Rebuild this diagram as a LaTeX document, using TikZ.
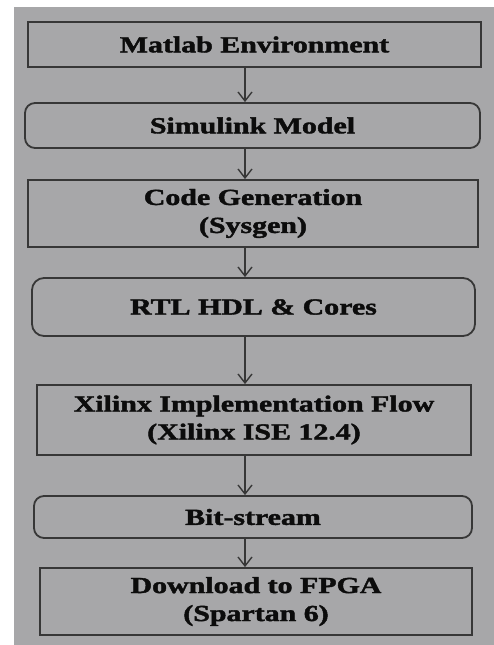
\documentclass[tikz,border=0pt]{standalone}
\usepackage{fontspec}
\setmainfont[BoldFeatures={FakeBold=1.6}]{Liberation Serif}
\usetikzlibrary{arrows.meta}
\definecolor{bgray}{RGB}{167,167,169}
\definecolor{lgray}{RGB}{55,55,55}
\definecolor{tblack}{RGB}{12,12,12}
\newcommand\sx[1]{\scalebox{1.3}[1]{#1}}
\tikzset{
  stepbox/.style={draw=lgray, line width=1.8pt, fill=bgray, rectangle, inner sep=0pt,
     text=tblack, align=center, font=\fontsize{23}{28}\selectfont\bfseries},
  roundbox/.style={stepbox, rounded corners=10pt},
  flow/.style={draw=lgray, line width=1.6pt, -{Straight Barb[length=9pt,width=14pt,line width=1.4pt]}}
}
\begin{document}
\begin{tikzpicture}[x=1pt,y=-1pt]
\useasboundingbox (0,0) rectangle (494,645);
\fill[white] (0,0) rectangle (494,645);
\fill[bgray] (14,7) rectangle (494,645);
\node[stepbox, minimum width=453pt, minimum height=45pt] (b1) at (254.5,44.5) {\sx{Matlab Environment}};
\node[roundbox, minimum width=455pt, minimum height=45pt] (b2) at (252.5,125.5) {\sx{Simulink Model}};
\node[stepbox, minimum width=450pt, minimum height=67pt] (b3) at (253,213.5) {\sx{Code Generation}\\\sx{(Sysgen)}};
\node[roundbox, rounded corners=12pt, minimum width=443pt, minimum height=58pt] (b4) at (253.5,307) {\sx{RTL HDL \& Cores}};
\node[stepbox, minimum width=434pt, minimum height=70pt] (b5) at (254,420) {\sx{Xilinx Implementation Flow}\\\sx{(Xilinx ISE 12.4)}};
\node[roundbox, minimum width=438pt, minimum height=42pt] (b6) at (253,517) {\sx{Bit-stream}};
\node[stepbox, minimum width=432pt, minimum height=67pt] (b7) at (256,601.5) {\sx{Download to FPGA}\\\sx{(Spartan 6)}};
\coordinate (ax) at (245,0);
\draw[flow] (b1.south -| ax) -- (b2.north -| ax);
\draw[flow] (b2.south -| ax) -- (b3.north -| ax);
\draw[flow] (b3.south -| ax) -- (b4.north -| ax);
\draw[flow] (b4.south -| ax) -- (b5.north -| ax);
\draw[flow] (b5.south -| ax) -- (b6.north -| ax);
\draw[flow] (b6.south -| ax) -- (b7.north -| ax);
\end{tikzpicture}
\end{document}
